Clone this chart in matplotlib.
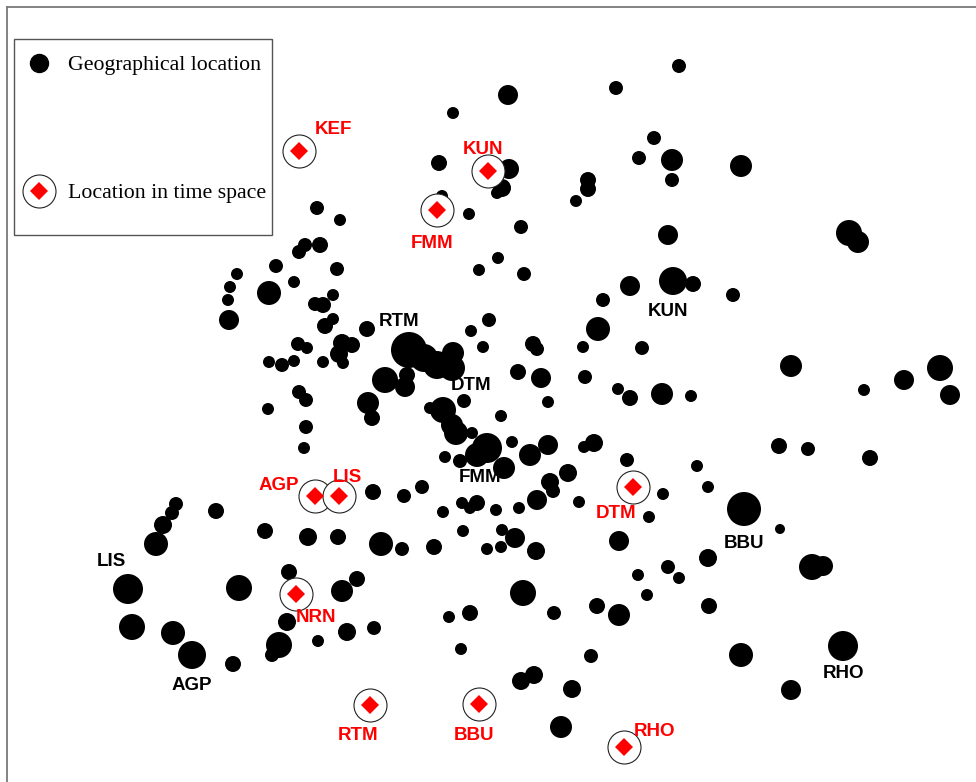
"""Geographical vs. time-space locations of airports (pixel-space layout)."""
import matplotlib
matplotlib.use("Agg")
import matplotlib.pyplot as plt
from matplotlib.lines import Line2D
from matplotlib.patches import Rectangle

W, H, DPI = 976, 782, 100

# geographical locations: x, y, radius (pixel units)
geo_x = [679, 616, 508, 453, 654, 672, 639, 672, 741, 588, 588, 576, 439, 509, 502, 497, 442, 469,
         521, 668, 498, 479, 524, 630, 673, 693, 733, 603, 849, 858, 489, 471, 483, 598, 533, 537,
         583, 642, 791, 940, 904, 950, 864, 518, 541, 585, 618, 630, 662, 691, 548,
         317, 340, 305, 299, 320, 276, 237, 337, 294, 230, 269, 228, 229, 333, 315, 323, 333, 325,
         367, 298, 307, 342, 352, 339, 343, 269, 282, 294, 323, 299, 306, 268, 306, 304,
         409, 424, 437, 453, 452, 385, 405, 407, 368, 372, 443, 430, 464, 452, 456, 472, 487, 477,
         460, 445, 504, 501, 512,
         779, 808, 870, 697, 708, 594, 584, 627, 548, 530, 568, 550, 553, 537, 579, 663, 649, 744,
         780, 619, 708, 668, 679, 638, 647, 812, 823, 709, 843, 741, 791, 523, 554, 597, 619, 470,
         449, 461, 591, 521, 534, 572, 561,
         373, 404, 422, 462, 477, 470, 496, 519, 443, 463, 502, 515, 501, 487, 536, 434, 402, 381,
         176, 172, 163, 156, 216, 265, 308, 338, 128, 239, 289, 342, 357, 132, 173, 192, 233, 287,
         279, 272, 318, 347, 374]
geo_y = [66, 88, 95, 113, 138, 160, 158, 180, 166, 180, 189, 201, 163, 169, 188, 193, 196, 214,
         227, 235, 258, 270, 274, 286, 281, 284, 295, 300, 233, 242, 320, 331, 347, 329, 344, 349,
         347, 348, 366, 368, 380, 395, 390, 372, 378, 377, 389, 398, 394, 396, 402,
         208, 220, 245, 252, 245, 266, 274, 269, 282, 287, 293, 300, 320, 295, 304, 305, 319, 326,
         329, 344, 348, 343, 345, 354, 363, 362, 365, 361, 362, 392, 400, 409, 427, 448,
         350, 358, 365, 353, 368, 380, 387, 375, 403, 418, 410, 408, 401, 425, 433, 433, 448, 455,
         461, 457, 468, 416, 442,
         446, 449, 458, 466, 487, 443, 447, 460, 445, 455, 473, 482, 491, 500, 502, 494, 517, 509,
         529, 541, 558, 567, 578, 575, 595, 567, 566, 606, 646, 655, 690, 593, 613, 606, 615, 613,
         617, 649, 656, 681, 675, 689, 727,
         492, 496, 487, 503, 503, 508, 510, 508, 512, 531, 530, 538, 547, 549, 551, 547, 549, 544,
         504, 513, 525, 544, 511, 531, 537, 537, 589, 588, 572, 591, 579, 627, 633, 655, 664, 622,
         645, 655, 641, 632, 628]
geo_r = [7, 7, 10, 6, 7, 11, 7, 7, 11, 8, 8, 6, 8, 10, 9, 6, 6, 6,
         7, 10, 6, 6, 7, 10, 14, 8, 7, 7, 13, 11, 7, 6, 6, 12, 8, 7,
         6, 7, 11, 13, 10, 10, 6, 8, 10, 7, 6, 8, 11, 6, 6,
         7, 6, 7, 7, 8, 7, 6, 7, 6, 6, 12, 6, 10, 6, 7, 8, 6, 8,
         8, 7, 6, 9, 8, 9, 6, 6, 7, 6, 6, 7, 7, 6, 7, 6,
         18, 14, 14, 11, 13, 13, 10, 8, 11, 8, 13, 6, 7, 11, 12, 6, 15, 12,
         7, 6, 11, 6, 6,
         8, 7, 8, 6, 6, 9, 6, 7, 10, 11, 9, 9, 7, 10, 6, 6, 6, 17,
         5, 10, 9, 7, 6, 6, 6, 13, 10, 8, 15, 12, 10, 13, 7, 8, 11, 8,
         6, 6, 7, 9, 9, 9, 11,
         8, 7, 7, 6, 8, 6, 6, 6, 6, 6, 6, 10, 6, 6, 9, 8, 7, 12,
         7, 7, 9, 12, 8, 8, 9, 8, 15, 13, 8, 11, 8, 13, 12, 14, 8, 9,
         13, 7, 6, 9, 7]

# airports: geographical position label and time-space position
geo_names = ["RTM", "DTM", "FMM", "KUN", "BBU", "LIS", "AGP", "RHO"]
geo_lab_x = [399, 471, 480, 668, 744, 111, 192, 844]
geo_lab_y = [322, 386, 478, 311, 543, 561, 686, 674]

ts_names = ["KEF", "KUN", "FMM", "AGP", "LIS", "NRN", "DTM", "RTM", "BBU", "RHO"]
ts_x = [299, 488, 437, 315, 339, 296, 633, 370, 479, 624]
ts_y = [151, 171, 210, 496, 496, 594, 487, 705, 704, 747]
ts_lab_dx = [34, -5, -5, -36, 8, 20, -17, -12, -5, 31]
ts_lab_dy = [-21, -21, 33, -10, -18, 24, 27, 30, 32, -16]

PX2PT = 72 / DPI
fig = plt.figure(figsize=(W / DPI, H / DPI), dpi=DPI)
ax = fig.add_axes([7 / W, 0, 1 - 7 / W, 1 - 7 / H])
ax.set_xlim(7, W)
ax.set_ylim(H, 7)
ax.set_xticks([])
ax.set_yticks([])
for side in ("right", "bottom"):
    ax.spines[side].set_visible(False)
for side in ("left", "top"):
    ax.spines[side].set_color("#7a7a7a")
    ax.spines[side].set_linewidth(1.3)

sizes = [(2 * r * PX2PT) ** 2 for r in geo_r]
ax.scatter(geo_x, geo_y, s=sizes, c="black", linewidths=0, zorder=2)

bold = dict(family="Liberation Sans", fontweight="bold", fontsize=13.5,
            ha="center", va="center")
for name, x, y in zip(geo_names, geo_lab_x, geo_lab_y):
    ax.text(x, y, name, color="black", zorder=5, **bold)

ring_ms = 33 * PX2PT
dia_ms = 12.5 * PX2PT
ax.plot(ts_x, ts_y, ls="none", marker="o", ms=ring_ms, mfc="white", mec="#222222",
        mew=0.8, zorder=3)
ax.plot(ts_x, ts_y, ls="none", marker="D", ms=dia_ms, mfc="red", mec="red", mew=0, zorder=4)
for name, x, y, dx, dy in zip(ts_names, ts_x, ts_y, ts_lab_dx, ts_lab_dy):
    ax.text(x + dx, y + dy, name, color="red", zorder=5, **bold)

# legend: frame drawn separately so the entries can sit unevenly inside it
ax.add_patch(Rectangle((14, 39), 258, 196, facecolor="white", edgecolor="#555555",
                       linewidth=1.0, zorder=6))
h_geo = Line2D([], [], ls="none", marker="o", ms=18 * PX2PT, mfc="black", mec="black")
h_ring = Line2D([], [], ls="none", marker="o", ms=ring_ms, mfc="white", mec="#222222", mew=0.8)
h_dia = Line2D([], [], ls="none", marker="D", ms=dia_ms, mfc="red", mec="red", mew=0)
leg = ax.legend([h_geo, (h_ring, h_dia)], ["Geographical location", "Location in time space"],
                loc="upper left", bbox_to_anchor=(28, 55), bbox_transform=ax.transData,
                borderaxespad=0, borderpad=0, handlelength=1.0, handletextpad=0.82,
                labelspacing=4.95, frameon=False,
                prop=dict(family="Liberation Serif", size=15.7))
leg.set_zorder(7)

fig.savefig("out.png", dpi=DPI)
